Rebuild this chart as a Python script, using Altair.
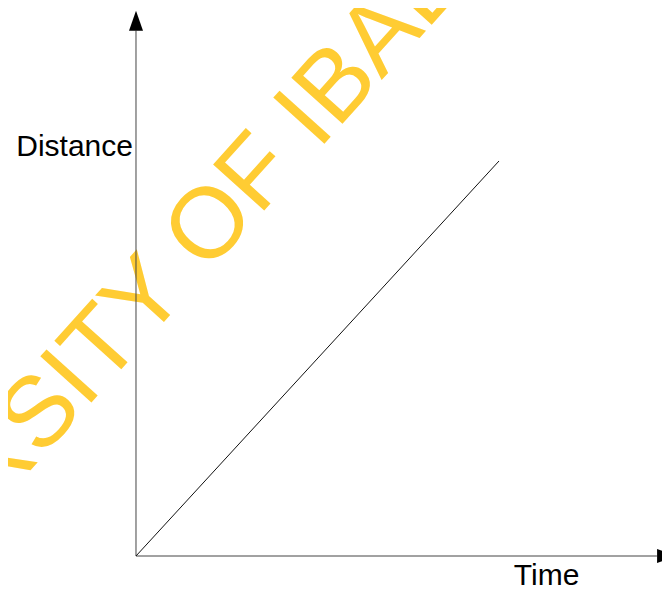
import altair as alt
import pandas as pd

# Distance–time line (arbitrary units, no ticks on the original)
time = [0, 10]
distance = [0, 10]

# Axis extents (arrow-headed axes)
axis_x_end = 14.35
axis_y_end = 13.3
arrow_up_at = 13.55
arrow_right_at = 14.63

# Labels
x_label = "Time"
y_label = "Distance"
watermark = "UNIVERSITY OF IBADAN"

W, H = 654, 584
xs = alt.Scale(domain=[-3.526, 14.49], nice=False, zero=False)
ys = alt.Scale(domain=[-0.911, 13.873], nice=False, zero=False)

line_df = pd.DataFrame({"t": time, "d": distance})
axes_df = pd.DataFrame({"x": [0, 0], "x2": [axis_x_end, 0], "y": [0, 0], "y2": [0, axis_y_end]})
up_df = pd.DataFrame({"x": [0], "y": [arrow_up_at]})
right_df = pd.DataFrame({"x": [arrow_right_at], "y": [0]})
ylab_df = pd.DataFrame({"x": [-0.083], "y": [10.13], "txt": [y_label]})
xlab_df = pd.DataFrame({"x": [11.31], "y": [-0.734], "txt": [x_label]})
wm_df = pd.DataFrame({"x": [0.534], "y": [6.82], "txt": [watermark]})

X = lambda f: alt.X(f, type="quantitative", scale=xs, axis=None)
Y = lambda f: alt.Y(f, type="quantitative", scale=ys, axis=None)

wm = alt.Chart(wm_df).mark_text(font="Liberation Sans", fontSize=100, align="center",
                                baseline="middle", angle=312, color="#FFCC33").encode(
    x=X("x"), y=Y("y"), text="txt")

axes = alt.Chart(axes_df).mark_rule(color="#444444", strokeWidth=1).encode(
    x=X("x"), x2="x2", y=Y("y"), y2="y2")

up = alt.Chart(up_df).mark_point(shape="M-0.7,1L0,-1L0.7,1Z", filled=True, size=400,
                                 color="black", opacity=1).encode(x=X("x"), y=Y("y"))
right = alt.Chart(right_df).mark_point(shape="M-1,-0.7L1,0L-1,0.7Z", filled=True, size=400,
                                       color="black", opacity=1).encode(x=X("x"), y=Y("y"))

line = alt.Chart(line_df).mark_line(color="#111111", strokeWidth=1).encode(
    x=X("t"), y=Y("d"))

ylab = alt.Chart(ylab_df).mark_text(font="Liberation Sans", fontSize=30, align="right",
                                    baseline="alphabetic", color="black").encode(
    x=X("x"), y=Y("y"), text="txt")
xlab = alt.Chart(xlab_df).mark_text(font="Liberation Sans", fontSize=30, align="center",
                                    baseline="alphabetic", color="black").encode(
    x=X("x"), y=Y("y"), text="txt")

chart = alt.layer(wm, axes, up, right, line, ylab, xlab).properties(
    width=W, height=H, padding=0, autosize=alt.AutoSizeParams(type="none")
).configure_view(stroke=None)

chart.save("out.html", embed_options={"renderer": "svg", "actions": False})
